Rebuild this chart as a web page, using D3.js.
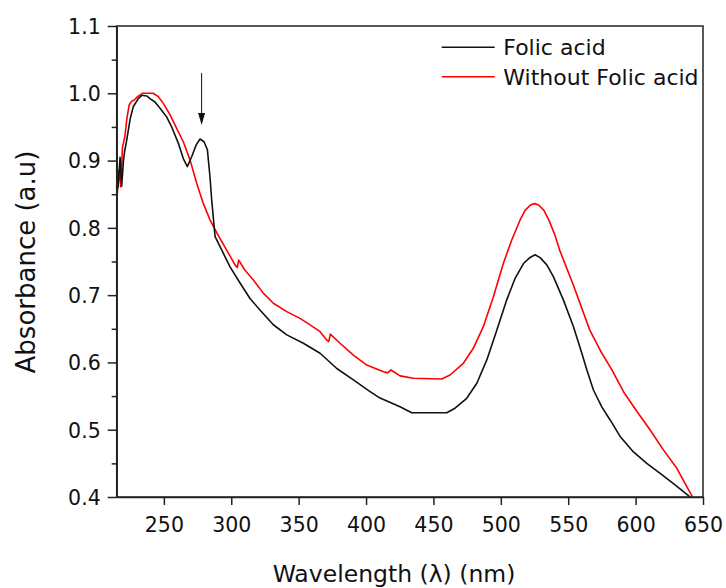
<!DOCTYPE html>
<html>
<head>
<meta charset="utf-8">
<script src="https://cdn.jsdelivr.net/npm/d3@7"></script>
<style>
  body { margin: 0; background: #fff; }
  text { font-family: "DejaVu Sans", sans-serif; fill: #111; }
</style>
</head>
<body>
<div id="chart"></div>
<script>
// Folic acid spectrum (black)
const folicWl = [215, 216, 217.5, 218.7, 220, 221, 222.4, 225, 227.3, 231, 233.6, 237.3, 239.7, 243.4, 247, 252, 255.8, 260.7, 264.4, 267.4, 270.7, 273.9, 276.8, 279.8, 282.3, 284.2, 285.5, 288, 291.7, 296.6, 299.1, 306.5, 313.9, 321.3, 331.2, 341.2, 353.5, 365.9, 378.3, 390.6, 403, 410.4, 425.2, 433.9, 459.9, 466, 474.7, 482.2, 489.6, 497, 504.4, 510.6, 516.8, 521.7, 525.4, 529.1, 534.1, 539, 546.4, 553.9, 560.1, 563.8, 568.7, 574.9, 581.1, 588.5, 598.4, 608.3, 618.2, 628.1, 635.5, 639.2, 642];
const folicAbs = [0.905, 0.86, 0.905, 0.862, 0.9, 0.915, 0.93, 0.962, 0.98, 0.992, 0.997, 0.996, 0.992, 0.987, 0.978, 0.965, 0.95, 0.926, 0.903, 0.891, 0.906, 0.923, 0.932, 0.928, 0.916, 0.876, 0.841, 0.787, 0.772, 0.752, 0.742, 0.718, 0.695, 0.678, 0.656, 0.641, 0.6285, 0.6136, 0.591, 0.574, 0.5565, 0.547, 0.534, 0.5253, 0.5253, 0.532, 0.5467, 0.569, 0.6037, 0.648, 0.693, 0.725, 0.747, 0.756, 0.76, 0.7557, 0.745, 0.7275, 0.693, 0.653, 0.6136, 0.589, 0.559, 0.534, 0.5145, 0.49, 0.467, 0.45, 0.435, 0.42, 0.408, 0.402, 0.396];

// Without folic acid (red)
const noFolicWl = [215, 215.5, 216.8, 218, 219.3, 221, 222.6, 224.3, 226, 228, 230.5, 234, 242, 245.9, 249.6, 254.6, 259.5, 264.4, 269.4, 274.4, 279.3, 284.2, 289.2, 292, 296.6, 302.8, 304.5, 305.5, 310.2, 316.4, 323.8, 331.2, 341.2, 351, 358.5, 365.9, 370.8, 372.3, 373.5, 380.7, 390.6, 400.5, 412.9, 416, 418.5, 425.2, 435.1, 456.2, 462.3, 472.2, 479.6, 487, 494.5, 501.9, 508.1, 514.3, 518, 522, 525, 528, 532, 536, 540, 544, 554, 566, 574, 582.4, 591, 601, 610.8, 620.6, 630.6, 638, 641.7, 643];
const noFolicAbs = [0.905, 0.852, 0.886, 0.861, 0.92, 0.935, 0.963, 0.983, 0.988, 0.99, 0.995, 1.0, 1.0, 0.995, 0.985, 0.968, 0.948, 0.928, 0.901, 0.866, 0.836, 0.812, 0.793, 0.783, 0.767, 0.745, 0.741, 0.752, 0.737, 0.7225, 0.703, 0.688, 0.6755, 0.6655, 0.6557, 0.6457, 0.6334, 0.631, 0.642, 0.6285, 0.611, 0.596, 0.5863, 0.5845, 0.5888, 0.58, 0.5764, 0.5754, 0.5813, 0.5987, 0.621, 0.6531, 0.6977, 0.7473, 0.782, 0.8117, 0.826, 0.834, 0.836, 0.834, 0.826, 0.81, 0.79, 0.765, 0.714, 0.648, 0.617, 0.5888, 0.5565, 0.527, 0.4996, 0.47, 0.4427, 0.4153, 0.402, 0.396];

const xTicks = [250, 300, 350, 400, 450, 500, 550, 600, 650];
const yTicks = [0.4, 0.5, 0.6, 0.7, 0.8, 0.9, 1.0, 1.1];
const yMinorTicks = [0.45, 0.55, 0.65, 0.75, 0.85, 0.95, 1.05];
const seriesNames = ["Folic acid", "Without Folic acid"];
const arrowMark = { wl: 278, from: 1.03, to: 0.953 };

const width = 726, height = 588;
const margin = { top: 26, right: 23, bottom: 91, left: 116.7 };
const innerW = width - margin.left - margin.right;
const innerH = height - margin.top - margin.bottom;
const axisColor = "#222";

const svg = d3.select("#chart")
    .append("svg")
    .attr("width", width)
    .attr("height", height);

const g = svg.append("g")
    .attr("transform", `translate(${margin.left},${margin.top})`);

const x = d3.scaleLinear().domain([215, 650]).range([0, innerW]);
const y = d3.scaleLinear().domain([0.4, 1.1]).range([innerH, 0]);

g.append("clipPath").attr("id", "plot-clip")
    .append("rect").attr("width", innerW).attr("height", innerH);

const series = [
    { name: seriesNames[0], color: "#111", points: folicWl.map((w, i) => [w, folicAbs[i]]) },
    { name: seriesNames[1], color: "#ff0000", points: noFolicWl.map((w, i) => [w, noFolicAbs[i]]) }
];

const line = d3.line()
    .x(d => x(d[0]))
    .y(d => y(d[1]));

g.append("g")
    .attr("clip-path", "url(#plot-clip)")
    .selectAll("path")
    .data(series.slice().reverse())
    .enter().append("path")
    .attr("d", d => line(d.points))
    .attr("fill", "none")
    .attr("stroke", d => d.color)
    .attr("stroke-width", 1.6)
    .attr("stroke-linejoin", "round");

// frame
g.append("rect")
    .attr("width", innerW)
    .attr("height", innerH)
    .attr("fill", "none")
    .attr("stroke", axisColor)
    .attr("stroke-width", 1.5);

const xAxis = g.append("g")
    .attr("transform", `translate(0,${innerH})`)
    .call(d3.axisBottom(x).tickValues(xTicks).tickSize(8).tickSizeOuter(0).tickPadding(12));

const yAxis = g.append("g")
    .call(d3.axisLeft(y).tickValues(yTicks).tickFormat(d3.format(".1f")).tickSize(9).tickSizeOuter(0).tickPadding(7));

g.append("g")
    .call(d3.axisLeft(y).tickValues(yMinorTicks).tickFormat("").tickSize(5).tickSizeOuter(0))
    .select(".domain").remove();

[xAxis, yAxis].forEach(ax => {
    ax.select(".domain").attr("stroke", axisColor).attr("stroke-width", 1.5);
    ax.selectAll("text")
        .style("font-family", '"DejaVu Sans", sans-serif')
        .style("font-size", "20.5px")
        .attr("fill", "#111");
});
g.selectAll(".tick line").attr("stroke", axisColor).attr("stroke-width", 1.5);
yAxis.selectAll("text").attr("dy", "0.36em");

// arrow pointing at the folic acid shoulder
const ax0 = x(arrowMark.wl);
g.append("line")
    .attr("x1", ax0).attr("x2", ax0)
    .attr("y1", y(arrowMark.from)).attr("y2", y(arrowMark.to) - 8)
    .attr("stroke", "#111")
    .attr("stroke-width", 1);
g.append("path")
    .attr("d", `M${ax0 - 3.5},${y(arrowMark.to) - 12}L${ax0 + 3.5},${y(arrowMark.to) - 12}L${ax0},${y(arrowMark.to)}Z`)
    .attr("fill", "#111");

// legend
const legend = svg.append("g")
    .attr("transform", "translate(441.7,47.3)");
const item = legend.selectAll("g")
    .data(series)
    .enter().append("g")
    .attr("transform", (d, i) => `translate(0,${i * 29.4})`);
item.append("line")
    .attr("x1", 0).attr("x2", 53)
    .attr("stroke", d => d.color)
    .attr("stroke-width", 1.6);
item.append("text")
    .attr("x", 61.6)
    .attr("y", 8)
    .style("font-size", "22px")
    .text(d => d.name);

// axis titles
svg.append("text")
    .attr("x", 394)
    .attr("y", 581.7)
    .attr("text-anchor", "middle")
    .style("font-size", "23.5px")
    .text("Wavelength (λ) (nm)");

svg.append("text")
    .attr("transform", "translate(35,262) rotate(-90)")
    .attr("text-anchor", "middle")
    .style("font-size", "26px")
    .text("Absorbance (a.u)");
</script>
</body>
</html>
